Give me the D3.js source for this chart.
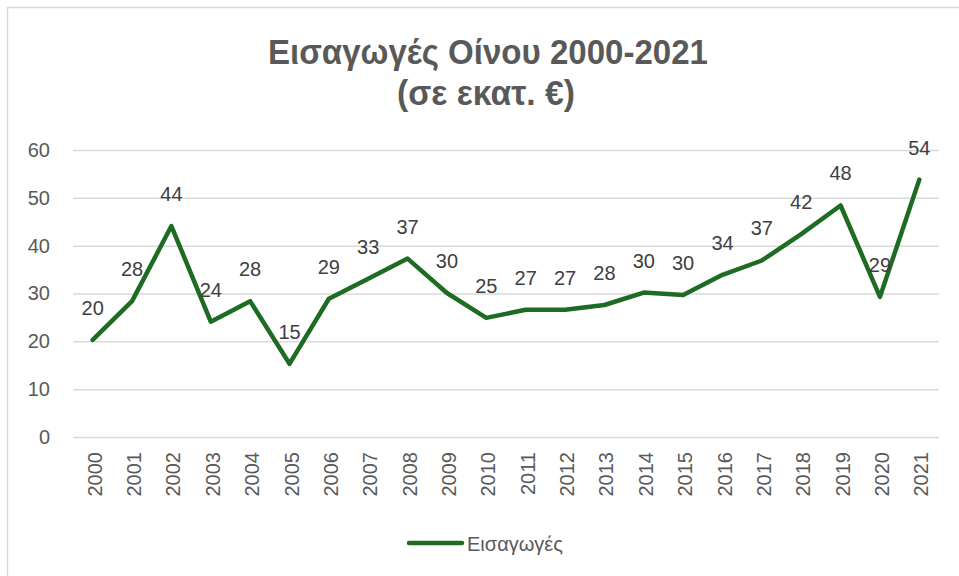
<!DOCTYPE html>
<html><head><meta charset="utf-8">
<script src="https://cdn.jsdelivr.net/npm/d3@7"></script>
<style>body{margin:0;background:#fff;}svg{display:block;}</style>
</head><body>
<svg id="c" width="959" height="576"></svg>
<script>
const years = ["2000","2001","2002","2003","2004","2005","2006","2007","2008","2009","2010","2011","2012","2013","2014","2015","2016","2017","2018","2019","2020","2021"];
const values = [20.3,28.4,44.1,24.1,28.4,15.3,28.9,33.1,37.3,30.1,24.9,26.6,26.6,27.6,30.2,29.7,33.9,36.9,42.4,48.4,29.3,53.8];
const labels = ["20","28","44","24","28","15","29","33","37","30","25","27","27","28","30","30","34","37","42","48","29","54"];
const yTicks = [0,10,20,30,40,50,60];
const titleLines = ["Εισαγωγές Οίνου 2000-2021","(σε εκατ. €)"];
const seriesName = "Εισαγωγές";

const svg = d3.select("#c");
const green = "#1e6b24", textC = "#595959", grid = "#d9d9d9";
const font = "'Liberation Sans', Arial, sans-serif";
const fs = 20;

svg.append("rect").attr("x",7.5).attr("y",7.5).attr("width",970).attr("height",600)
  .attr("fill","#fff").attr("stroke","#d9d9d9").attr("stroke-width",1.5);

const x = d3.scaleBand().domain(years).range([73,939]);
const y = d3.scaleLinear().domain([0,60]).range([437,150]);

// title
const tLen = [440,178], tX = [488,486], tY = [63.5,105];
svg.selectAll("text.title").data(titleLines).join("text")
  .attr("x",(d,i)=>tX[i]).attr("y",(d,i)=>tY[i])
  .attr("text-anchor","middle").attr("fill",textC)
  .attr("font-family",font)
  .attr("font-weight","bold").attr("font-size",35)
  .attr("textLength",(d,i)=>tLen[i]).attr("lengthAdjust","spacingAndGlyphs")
  .text(d=>d);

// grid + y axis
const yAxis = d3.axisLeft(y).tickValues(yTicks).tickSize(-(939-73)).tickPadding(23);
const gy = svg.append("g").attr("transform","translate(73,0)").call(yAxis);
gy.select(".domain").remove();
gy.selectAll(".tick line").attr("stroke",grid).attr("stroke-width",1.5);
gy.selectAll(".tick text").attr("fill",textC).attr("font-family",font).attr("font-size",fs).attr("text-anchor","end");

// x axis
const xAxis = d3.axisBottom(x).tickSize(0).tickPadding(0);
const gx = svg.append("g").attr("transform","translate(0,437)").call(xAxis);
gx.select(".domain").remove();
gx.selectAll(".tick text").attr("fill",textC).attr("font-family",font).attr("font-size",fs)
  .attr("text-anchor","end").attr("dy",null)
  .attr("transform","translate(9,15) rotate(-90)");

// line
const line = d3.line().x((d,i)=>x(years[i])+x.bandwidth()/2).y(d=>y(d));
svg.append("path").datum(values).attr("d",line).attr("fill","none")
  .attr("stroke",green).attr("stroke-width",4.5).attr("stroke-linejoin","round").attr("stroke-linecap","round");

// data labels
svg.selectAll("text.lbl").data(values).join("text")
  .attr("x",(d,i)=>x(years[i])+x.bandwidth()/2).attr("y",d=>y(d)-25)
  .attr("text-anchor","middle").attr("fill","#404040").attr("font-family",font).attr("font-size",fs)
  .text((d,i)=>labels[i]);

// legend
svg.append("line").attr("x1",409).attr("x2",462).attr("y1",543).attr("y2",543)
  .attr("stroke",green).attr("stroke-width",4.5).attr("stroke-linecap","round");
svg.append("text").attr("x",467).attr("y",551).attr("fill",textC).attr("font-family",font).attr("font-size",fs).text(seriesName);
</script>
</body></html>
